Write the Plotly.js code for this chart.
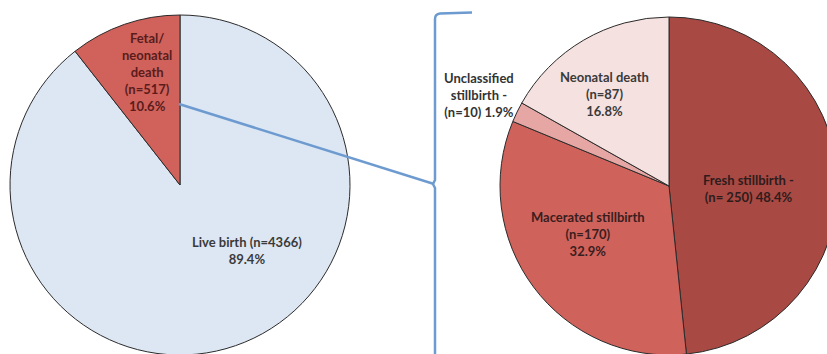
<!DOCTYPE html>
<html><head><meta charset="utf-8">
<script src="https://cdn.plot.ly/plotly-3.0.1.min.js"></script>
<style>html,body{margin:0;padding:0;overflow:hidden;background:#fff;width:827px;height:354px}#chart{width:850px;height:360px}</style>
</head><body><div id="chart"></div>
<script>
// Data
const outcomeLabels = ["Live birth", "Fetal/ neonatal death"];
const outcomeValues = [4366, 517];
const outcomeText = ["Live birth (n=4366)<br>89.4%", "Fetal/<br>neonatal<br>death<br>(n=517)<br>10.6%"];
const deathLabels = ["Fresh stillbirth", "Macerated stillbirth", "Unclassified stillbirth", "Neonatal death"];
const deathValues = [250, 170, 10, 87];
const deathText = ["Fresh stillbirth -<br>(n= 250) 48.4%", "Macerated stillbirth<br>(n=170)<br>32.9%", "Unclassified<br>stillbirth -<br>(n=10) 1.9%", "Neonatal death<br>(n=87)<br>16.8%"];

const W = 850, H = 360;
const outcomeColors = ["#dde7f3", "#d0625b"];
const deathColors = ["#a94943", "#d0625c", "#e6a7a4", "#f5e1df"];

const traces = [
  {type: "pie", labels: outcomeLabels, values: outcomeValues, sort: false, direction: "clockwise", rotation: 0,
   marker: {colors: outcomeColors, line: {color: "#2b2b2b", width: 1}}, textinfo: "none", hoverinfo: "label+value+percent",
   domain: {x: [10 / W, 350 / W], y: [5 / H, 345 / H]}, showlegend: false},
  {type: "pie", labels: deathLabels, values: deathValues, sort: false, direction: "clockwise", rotation: 0,
   marker: {colors: deathColors, line: {color: "#2b2b2b", width: 1}}, textinfo: "none", hoverinfo: "label+value+percent",
   domain: {x: [500 / W, 838 / W], y: [5 / H, 343 / H]}, showlegend: false}
];

const font = {family: "Lato, 'Open Sans', sans-serif", size: 13};
function ann(text, x, y, color) {
  return {text: "<b>" + text + "</b>", x: x, y: y, xref: "x", yref: "y", showarrow: false,
          font: Object.assign({}, font, {color: color}), align: "center", xanchor: "center", yanchor: "middle"};
}
const annotations = [
  ann(outcomeText[1], 147, 72, "#5a1c1c"),
  ann(outcomeText[0], 247, 250, "#3a3a3a"),
  ann(deathText[0], 748, 188, "#2e1c1c"),
  ann(deathText[1], 588, 234, "#3a1e1e"),
  ann(deathText[2], 479, 95, "#333333"),
  ann(deathText[3], 604, 94, "#3a3a3a")
];

const lineColor = "#6d9bd0";
const shapes = [
  {type: "line", xref: "x", yref: "y", x0: 179, y0: 104, x1: 434, y1: 184, line: {color: lineColor, width: 2.5}},
  {type: "path", xref: "x", yref: "y", path: "M 472 12.5 L 440 13.5 Q 435 14 435 19 L 435 180 L 433 184 L 435 188 L 435 360",
   line: {color: lineColor, width: 2.5}}
];

const layout = {
  width: W, height: H, margin: {l: 0, r: 0, t: 0, b: 0}, paper_bgcolor: "#fff", plot_bgcolor: "rgba(0,0,0,0)",
  xaxis: {range: [0, W], visible: false, fixedrange: true},
  yaxis: {range: [H, 0], visible: false, fixedrange: true},
  showlegend: false, annotations: annotations, shapes: shapes
};
Plotly.newPlot("chart", traces, layout, {displayModeBar: false, staticPlot: true});
</script></body></html>
